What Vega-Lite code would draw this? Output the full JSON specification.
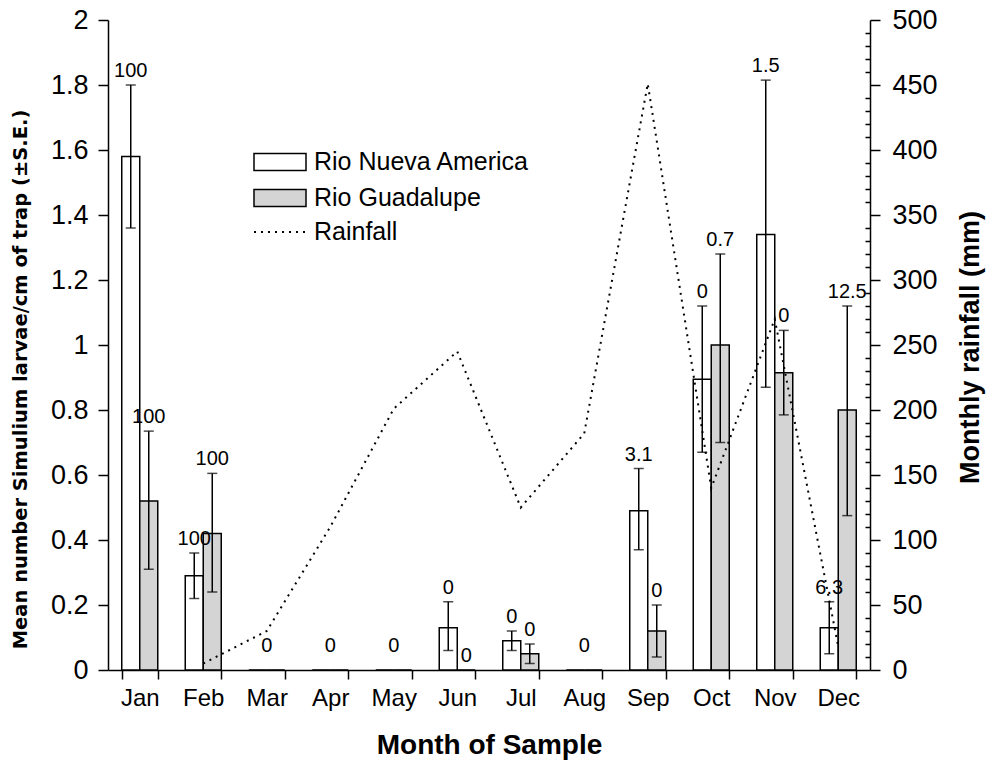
{
  "$schema": "https://vega.github.io/schema/vega-lite/v6.json",
  "width": 762,
  "height": 650,
  "autosize": "none",
  "padding": {"left": 108, "top": 20, "right": 117, "bottom": 98},
  "background": "white",
  "config": {
    "view": {"stroke": null},
    "font": "Liberation Sans",
    "axis": {"domainColor": "black", "tickColor": "black", "labelColor": "black", "titleColor": "black", "grid": false, "domainWidth": 1.5, "tickWidth": 1.5, "labelFont": "Liberation Sans", "titleFont": "Liberation Sans"},
    "legend": {"labelFont": "Liberation Sans", "labelColor": "black"}
  },
  "datasets": {
    "bars": [
      {"month": "Jan", "river": "Rio Nueva America", "mean": 1.58, "lo": 1.36, "hi": 1.80, "label": "100"},
      {"month": "Jan", "river": "Rio Guadalupe", "mean": 0.52, "lo": 0.31, "hi": 0.735, "label": "100"},
      {"month": "Feb", "river": "Rio Nueva America", "mean": 0.29, "lo": 0.22, "hi": 0.36, "label": "100"},
      {"month": "Feb", "river": "Rio Guadalupe", "mean": 0.42, "lo": 0.24, "hi": 0.605, "label": "100"},
      {"month": "Mar", "river": "Rio Nueva America", "mean": 0, "lo": 0, "hi": 0, "label": ""},
      {"month": "Mar", "river": "Rio Guadalupe", "mean": 0, "lo": 0, "hi": 0, "label": ""},
      {"month": "Apr", "river": "Rio Nueva America", "mean": 0, "lo": 0, "hi": 0, "label": ""},
      {"month": "Apr", "river": "Rio Guadalupe", "mean": 0, "lo": 0, "hi": 0, "label": ""},
      {"month": "May", "river": "Rio Nueva America", "mean": 0, "lo": 0, "hi": 0, "label": ""},
      {"month": "May", "river": "Rio Guadalupe", "mean": 0, "lo": 0, "hi": 0, "label": ""},
      {"month": "Jun", "river": "Rio Nueva America", "mean": 0.13, "lo": 0.06, "hi": 0.21, "label": "0"},
      {"month": "Jun", "river": "Rio Guadalupe", "mean": 0, "lo": 0, "hi": 0, "label": "0"},
      {"month": "Jul", "river": "Rio Nueva America", "mean": 0.09, "lo": 0.06, "hi": 0.12, "label": "0"},
      {"month": "Jul", "river": "Rio Guadalupe", "mean": 0.05, "lo": 0.02, "hi": 0.08, "label": "0"},
      {"month": "Aug", "river": "Rio Nueva America", "mean": 0, "lo": 0, "hi": 0, "label": ""},
      {"month": "Aug", "river": "Rio Guadalupe", "mean": 0, "lo": 0, "hi": 0, "label": ""},
      {"month": "Sep", "river": "Rio Nueva America", "mean": 0.49, "lo": 0.37, "hi": 0.62, "label": "3.1"},
      {"month": "Sep", "river": "Rio Guadalupe", "mean": 0.12, "lo": 0.04, "hi": 0.20, "label": "0"},
      {"month": "Oct", "river": "Rio Nueva America", "mean": 0.895, "lo": 0.67, "hi": 1.12, "label": "0"},
      {"month": "Oct", "river": "Rio Guadalupe", "mean": 1.0, "lo": 0.70, "hi": 1.28, "label": "0.7"},
      {"month": "Nov", "river": "Rio Nueva America", "mean": 1.34, "lo": 0.87, "hi": 1.815, "label": "1.5"},
      {"month": "Nov", "river": "Rio Guadalupe", "mean": 0.915, "lo": 0.785, "hi": 1.045, "label": "0"},
      {"month": "Dec", "river": "Rio Nueva America", "mean": 0.13, "lo": 0.05, "hi": 0.21, "label": "6.3"},
      {"month": "Dec", "river": "Rio Guadalupe", "mean": 0.80, "lo": 0.475, "hi": 1.12, "label": "12.5"}
    ],
    "zeros": [
      {"month": "Mar", "label": "0"},
      {"month": "Apr", "label": "0"},
      {"month": "May", "label": "0"},
      {"month": "Aug", "label": "0"}
    ],
    "rain": [
      {"month": "Feb", "rain": 5},
      {"month": "Mar", "rain": 30},
      {"month": "Apr", "rain": 110},
      {"month": "May", "rain": 201},
      {"month": "Jun", "rain": 245},
      {"month": "Jul", "rain": 125},
      {"month": "Aug", "rain": 182},
      {"month": "Sep", "rain": 451},
      {"month": "Oct", "rain": 140},
      {"month": "Nov", "rain": 270},
      {"month": "Dec", "rain": 18}
    ]
  },
  "layer": [
    {
      "resolve": {"axis": {"y": "independent"}},
      "layer": [
        {
          "data": {"name": "bars"},
          "mark": {"type": "bar", "stroke": "black", "strokeWidth": 1.5},
          "encoding": {
            "x": {
              "field": "month", "type": "nominal",
              "scale": {"domain": ["Jan","Feb","Mar","Apr","May","Jun","Jul","Aug","Sep","Oct","Nov","Dec"], "paddingInner": 0.433, "paddingOuter": 0.2165},
              "axis": {"title": "Month of Sample", "titleFontSize": 28, "titleFontWeight": "bold", "titleY": 75, "titleBaseline": "middle", "labelFontSize": 24, "labelPadding": 7, "tickSize": 9, "tickBand": "extent", "labelAngle": 0}
            },
            "xOffset": {"field": "river", "scale": {"domain": ["Rio Nueva America", "Rio Guadalupe"]}},
            "y": {
              "field": "mean", "type": "quantitative",
              "scale": {"domain": [0, 2]},
              "axis": {"title": "Mean number Simulium larvae/cm of trap (±S.E.)", "titleFont": "DejaVu Sans", "titleFontSize": 19.5, "titleFontWeight": "bold", "titleAngle": 270, "titleX": -88, "titleY": 359, "titleBaseline": "middle", "titleAlign": "center", "values": [0,0.2,0.4,0.6,0.8,1,1.2,1.4,1.6,1.8,2], "format": ".1~f", "labelFontSize": 27, "tickSize": 10, "labelPadding": 10}
            },
            "fill": {
              "field": "river", "type": "nominal",
              "scale": {"domain": ["Rio Nueva America", "Rio Guadalupe"], "range": ["white", "#d4d4d4"]},
              "legend": {"title": null, "orient": "none", "legendX": 145, "legendY": 128, "padding": 0, "symbolType": "M-1,-0.66L3,-0.66L3,0.66L-1,0.66Z", "symbolSize": 676, "symbolStrokeColor": "black", "symbolStrokeWidth": 1.5, "symbolOpacity": 1, "labelFontSize": 25, "labelOffset": 33, "labelLimit": 0, "rowPadding": 9}
            }
          }
        },
        {
          "data": {"name": "bars"},
          "transform": [{"filter": "datum.hi > 0"}],
          "mark": {"type": "rule", "strokeWidth": 1.5, "color": "black"},
          "encoding": {
            "x": {"field": "month", "type": "nominal", "scale": {"domain": ["Jan","Feb","Mar","Apr","May","Jun","Jul","Aug","Sep","Oct","Nov","Dec"]}},
            "xOffset": {"field": "river", "scale": {"domain": ["Rio Nueva America", "Rio Guadalupe"]}},
            "y": {"field": "lo", "type": "quantitative", "axis": {"title": null, "labels": false, "domain": false, "tickSize": -5, "values": [0.04,0.08,0.12,0.16,0.24,0.28,0.32,0.36,0.44,0.48,0.52,0.56,0.64,0.68,0.72,0.76,0.84,0.88,0.92,0.96,1.04,1.08,1.12,1.16,1.24,1.28,1.32,1.36,1.44,1.48,1.52,1.56,1.64,1.68,1.72,1.76,1.84,1.88,1.92,1.96]}},
            "y2": {"field": "hi"}
          }
        },
        {
          "data": {"name": "bars"},
          "transform": [{"filter": "datum.hi > 0"}],
          "mark": {"type": "tick", "size": 10, "thickness": 1.5, "color": "black"},
          "encoding": {
            "x": {"field": "month", "type": "nominal", "scale": {"domain": ["Jan","Feb","Mar","Apr","May","Jun","Jul","Aug","Sep","Oct","Nov","Dec"]}},
            "xOffset": {"field": "river", "scale": {"domain": ["Rio Nueva America", "Rio Guadalupe"]}},
            "y": {"field": "hi", "type": "quantitative", "axis": null}
          }
        },
        {
          "data": {"name": "bars"},
          "transform": [{"filter": "datum.hi > 0"}],
          "mark": {"type": "tick", "size": 10, "thickness": 1.5, "color": "black"},
          "encoding": {
            "x": {"field": "month", "type": "nominal", "scale": {"domain": ["Jan","Feb","Mar","Apr","May","Jun","Jul","Aug","Sep","Oct","Nov","Dec"]}},
            "xOffset": {"field": "river", "scale": {"domain": ["Rio Nueva America", "Rio Guadalupe"]}},
            "y": {"field": "lo", "type": "quantitative", "axis": null}
          }
        },
        {
          "data": {"name": "bars"},
          "transform": [{"filter": "datum.label != ''"}],
          "mark": {"type": "text", "baseline": "bottom", "dy": -4, "fontSize": 20, "color": "black"},
          "encoding": {
            "x": {"field": "month", "type": "nominal", "scale": {"domain": ["Jan","Feb","Mar","Apr","May","Jun","Jul","Aug","Sep","Oct","Nov","Dec"]}},
            "xOffset": {"field": "river", "scale": {"domain": ["Rio Nueva America", "Rio Guadalupe"]}},
            "y": {"field": "hi", "type": "quantitative", "axis": null},
            "text": {"field": "label"}
          }
        },
        {
          "data": {"name": "zeros"},
          "mark": {"type": "text", "baseline": "bottom", "dy": -14, "fontSize": 20, "color": "black"},
          "encoding": {
            "x": {"field": "month", "type": "nominal", "scale": {"domain": ["Jan","Feb","Mar","Apr","May","Jun","Jul","Aug","Sep","Oct","Nov","Dec"]}},
            "y": {"datum": 0, "type": "quantitative", "axis": null},
            "text": {"field": "label"}
          }
        }
      ]
    },
    {
      "data": {"name": "rain"},
      "mark": {"type": "line", "color": "black", "strokeWidth": 2},
      "encoding": {
        "x": {"field": "month", "type": "nominal", "scale": {"domain": ["Jan","Feb","Mar","Apr","May","Jun","Jul","Aug","Sep","Oct","Nov","Dec"]}},
        "y": {
          "field": "rain", "type": "quantitative",
          "scale": {"domain": [0, 500]},
          "axis": {"orient": "right", "title": "Monthly rainfall (mm)", "titleFontSize": 27, "titleFontWeight": "bold", "titleAngle": 270, "titleX": 100, "titleY": 327, "titleBaseline": "middle", "titleAlign": "center", "values": [0,50,100,150,200,250,300,350,400,450,500], "labelFontSize": 27, "tickSize": 10, "labelPadding": 12}
        },
        "strokeDash": {
          "datum": "Rainfall",
          "scale": {"domain": ["Rainfall"], "range": [[2, 5]]},
          "legend": {"title": null, "orient": "none", "legendX": 145, "legendY": 198, "padding": 0, "symbolType": "M-1,0L3,0", "symbolSize": 676, "symbolFillColor": "transparent", "symbolStrokeColor": "black", "symbolStrokeWidth": 2, "labelFontSize": 25, "labelOffset": 33, "labelLimit": 0}
        }
      }
    }
  ],
  "resolve": {"scale": {"y": "independent"}}
}
